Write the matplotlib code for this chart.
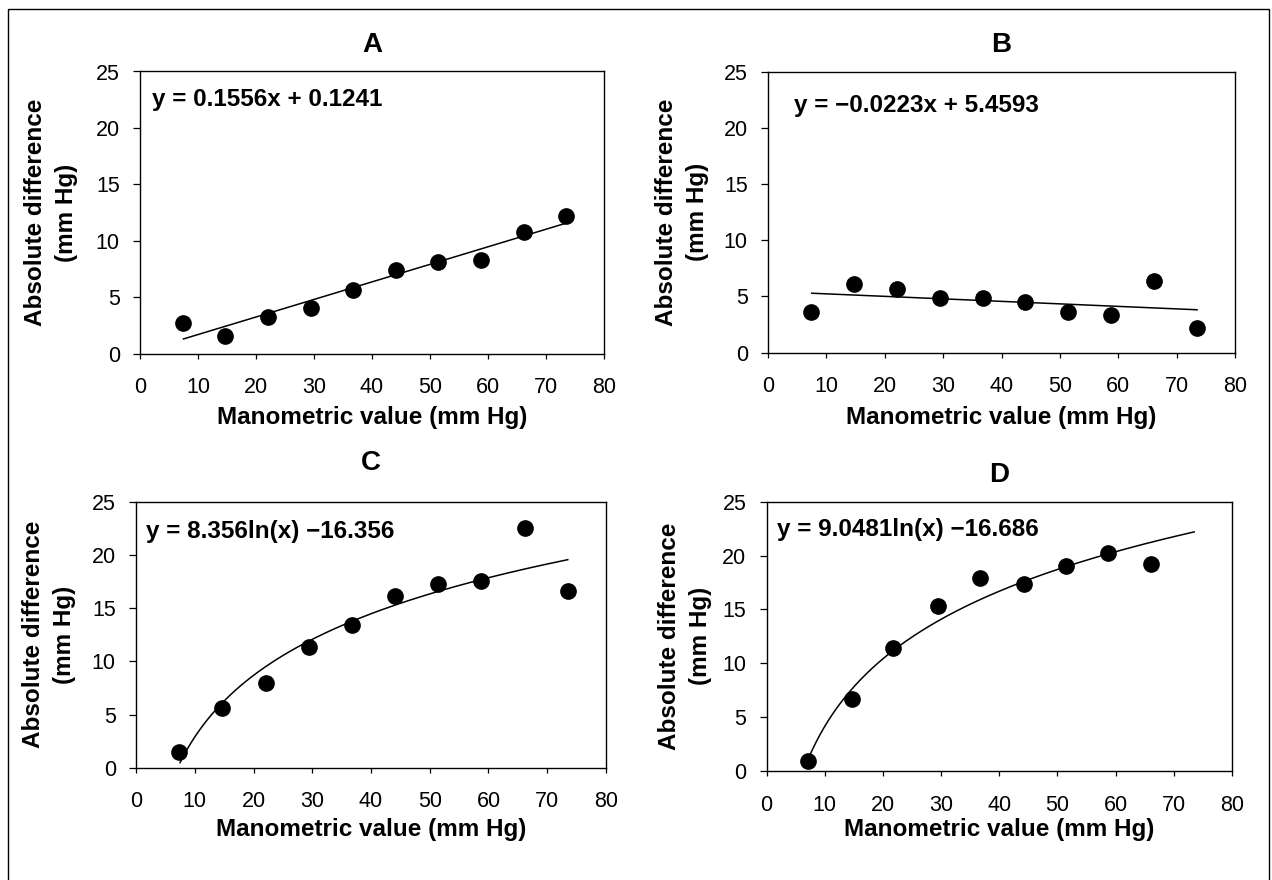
import matplotlib
matplotlib.use("Agg")
import matplotlib.pyplot as plt
import numpy as np
from matplotlib.patches import Rectangle

plt.rcParams["font.family"] = ["Liberation Sans", "DejaVu Sans"]

W, H = 1272, 880

# manometric values (mm Hg), shared by the panels
x_ab = [7.35, 14.7, 22.05, 29.4, 36.75, 44.1, 51.45, 58.8, 66.15, 73.5]
x_d = [7.2, 14.6, 21.8, 29.5, 36.7, 44.2, 51.4, 58.6, 66.1]

# absolute differences (mm Hg)
y_a = [2.7, 1.55, 3.25, 4.05, 5.6, 7.4, 8.1, 8.3, 10.8, 12.15]
y_b = [3.65, 6.1, 5.7, 4.9, 4.9, 4.55, 3.65, 3.35, 6.4, 2.2]
y_c = [1.5, 5.6, 8.0, 11.3, 13.4, 16.1, 17.3, 17.55, 22.5, 16.6]
y_d = [0.95, 6.7, 11.45, 15.3, 17.95, 17.4, 19.0, 20.2, 19.2]

# trendline equations as printed on the chart
eq_a = "y = 0.1556x + 0.1241"
eq_b = "y = \u22120.0223x + 5.4593"
eq_c = "y = 8.356ln(x) \u221216.356"
eq_d = "y = 9.0481ln(x) \u221216.686"
coef_a = (0.1556, 0.1241)
coef_b = (-0.0223, 5.4593)
coef_c = (8.356, -16.356)
coef_d = (9.0481, -16.686)
fit_range_a = (7.5, 73.5)
fit_range_b = (7.5, 73.5)
fit_range_c = (7.5, 73.5)
fit_range_d = (7.2, 73.5)

# panel layout in pixels: left, right, top, bottom
panels = [
    ("A", x_ab, y_a, "lin", coef_a, fit_range_a, eq_a, (140, 604, 71.5, 353.5), 45, (0.026, 0.899), 51, 417.5),
    ("B", x_ab, y_b, "lin", coef_b, fit_range_b, eq_b, (768, 1235, 71.7, 352.7), 45, (0.056, 0.881), 682, 417.5),
    ("C", x_ab, y_c, "log", coef_c, fit_range_c, eq_c, (136, 606, 501.7, 767.7), 463, (0.021, 0.887), 49, 829),
    ("D", x_d, y_d, "log", coef_d, fit_range_d, eq_d, (766.6, 1232, 501.7, 771), 475, (0.022, 0.895), 685, 829),
]

fig = plt.figure(figsize=(W / 100, H / 100), dpi=100)

for name, xs, ys, kind, coef, rng, eq, box, title_y, eq_pos, ylab_x, xlab_y in panels:
    l, r, t, b = box
    ax = fig.add_axes([l / W, 1 - b / H, (r - l) / W, (b - t) / H])

    xf = np.linspace(rng[0], rng[1], 200)
    if kind == "lin":
        yf = coef[0] * xf + coef[1]
    else:
        yf = coef[0] * np.log(xf) + coef[1]
    ax.plot(xf, yf, color="black", linewidth=1.1, zorder=2)
    ax.plot(xs, ys, "o", color="black", markersize=11, zorder=3)

    ax.set_xlim(0, 80)
    ax.set_ylim(0, 25)
    ax.set_xticks(range(0, 81, 10))
    ax.set_yticks(range(0, 26, 5))
    ax.tick_params(axis="x", direction="out", length=3.6, width=0.9, pad=13.5, labelsize=15.5)
    ax.tick_params(axis="y", direction="out", length=5, width=0.9, pad=9.5, labelsize=15.5)
    for s in ax.spines.values():
        s.set_linewidth(1.0)

    ax.text(eq_pos[0], eq_pos[1], eq, transform=ax.transAxes, ha="left", va="center",
            fontsize=17.5, fontweight="bold")

    ax.set_ylabel("Absolute difference\n(mm Hg)", fontsize=17.5, fontweight="bold", linespacing=1.4)
    ax.yaxis.label.set_va("center")
    ax.yaxis.set_label_coords((ylab_x - l) / (r - l), 0.5)

    ax.set_xlabel("Manometric value (mm Hg)", fontsize=17.5, fontweight="bold")
    ax.xaxis.label.set_va("center")
    ax.xaxis.set_label_coords(0.5, (b - xlab_y) / (b - t))

    fig.text((l + r) / 2 / W, 1 - title_y / H, name, ha="center", va="center",
             fontsize=20, fontweight="bold")

# outer frame, open at the bottom edge of the picture
fig.patches.append(Rectangle((8 / W, -0.05), (1269 - 8) / W, 1.05 - 9.5 / H,
                             transform=fig.transFigure, fill=False,
                             edgecolor="black", linewidth=1.0))

fig.savefig("out.png", dpi=100)
